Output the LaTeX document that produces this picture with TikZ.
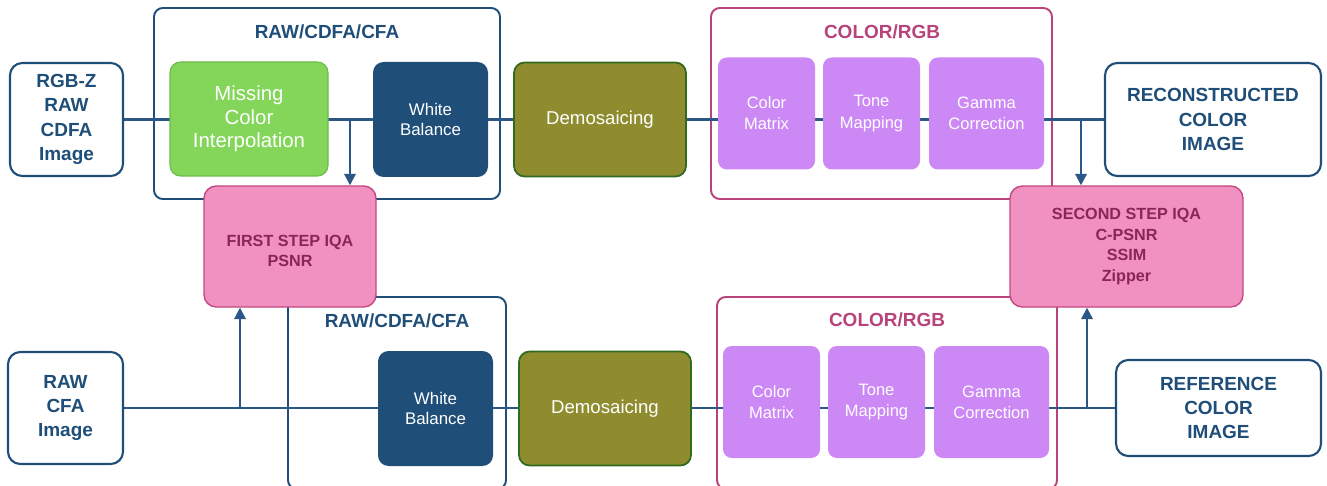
\documentclass[tikz,border=0pt]{standalone}
\usepackage{fontspec}
\setmainfont{Liberation Sans}
\usepackage{tikz}
\usetikzlibrary{arrows.meta,backgrounds}
\definecolor{navy}{HTML}{1F4E79}
\definecolor{linkblue}{HTML}{2A5785}
\definecolor{leaf}{HTML}{84D65A}
\definecolor{leafedge}{HTML}{6CB84A}
\definecolor{olive}{HTML}{8F8C2F}
\definecolor{oliveedge}{HTML}{2F6B1F}
\definecolor{lilac}{HTML}{CC88F5}
\definecolor{rose}{HTML}{F091C1}
\definecolor{roseedge}{HTML}{C24A80}
\definecolor{rosetext}{HTML}{8B2557}
\definecolor{plum}{HTML}{B8437A}
\tikzset{
    dims/.style 2 args={minimum width=#1*0.02cm,minimum height=#2*0.02cm},
    image box/.style={
        draw=navy,line width=1.2pt,rounded corners=7pt,
        fill=white,text=navy,align=center,inner sep=0pt,
        font=\bfseries\fontsize{10.8}{13.8}\selectfont
    },
    stage box/.style={
        rounded corners=6pt,inner sep=0pt,align=center,text=white
    },
    mci box/.style={stage box,draw=leafedge,fill=leaf,line width=.6pt,
        font=\fontsize{11.6}{13.4}\selectfont},
    wb box/.style={stage box,fill=navy,dims={115}{115},
        font=\fontsize{9.6}{11.4}\selectfont},
    demo box/.style={stage box,draw=oliveedge,fill=olive,line width=1pt,
        dims={172}{114},font=\fontsize{10.6}{12}\selectfont},
    rgb box/.style={stage box,fill=lilac,rounded corners=5pt,
        font=\fontsize{9.4}{12}\selectfont},
    iqa box/.style={
        draw=roseedge,fill=rose,line width=.8pt,rounded corners=7pt,
        text=rosetext,align=center,inner sep=0pt,
        font=\bfseries\fontsize{9.2}{11.8}\selectfont
    },
    group frame/.style={line width=1.1pt,rounded corners=5pt},
    group title/.style={font=\bfseries\fontsize{10.8}{13}\selectfont},
    link/.style={draw=linkblue,line width=1.2pt},
    >={Triangle[width=6.5pt,length=6.5pt]}
}
\begin{document}
\begin{tikzpicture}[x=0.02cm,y=-0.02cm]
\useasboundingbox (0,0) rectangle (1327,486);
% inputs and outputs
\node[image box,dims={113}{113}] (rgbz) at (66.5,119.5) {RGB-Z\\RAW\\CDFA\\Image};
\node[image box,dims={115}{112}] (raw) at (65.5,408) {RAW\\CFA\\Image};
\node[image box,dims={216}{113}] (recon) at (1213,119.5) {RECONSTRUCTED\\COLOR\\IMAGE};
\node[image box,dims={205}{96}] (ref) at (1218.5,408) {REFERENCE\\COLOR\\IMAGE};
% pipeline stages
\node[mci box,dims={158}{114}] (mci) at (249,119) {Missing\\Color\\Interpolation};
\node[wb box] (wb1) at (430.5,119.5) {White\\Balance};
\node[wb box] (wb2) at (435.5,408.5) {White\\Balance};
\node[demo box] (dem1) at (600,119.5) {Demosaicing};
\node[demo box] (dem2) at (605,408.5) {Demosaicing};
\foreach \r/\dx/\y in {1/0/113.5,2/5/402}{
    \node[rgb box,dims={97}{112}] (cm\r) at (766.5+\dx,\y) {Color\\Matrix};
    \node[rgb box,dims={97}{112}] (tm\r) at (871.5+\dx,\y) {Tone\\Mapping};
    \node[rgb box,dims={115}{112}] (gc\r) at (986.5+\dx,\y) {Gamma\\Correction};
}
% quality assessment
\node[iqa box,dims={172}{121}] (iqa1) at (290,246.5) {\rule{0pt}{11.5pt}FIRST STEP IQA\\PSNR};
\node[iqa box,dims={233}{121}] (iqa2) at (1126.5,246.5) {SECOND STEP IQA\\C-PSNR\\SSIM\\Zipper};
\begin{scope}[on background layer]
    \draw[group frame,navy] (154,8) rectangle (500,199);
    \draw[group frame,navy] (288,297) rectangle (506,489);
    \draw[group frame,plum] (711,8) rectangle (1052,199);
    \draw[group frame,plum] (717,297) rectangle (1057,489);
    \node[group title,text=navy] (raw1) at (327,32) {RAW/CDFA/CFA};
    \node[group title,text=navy] (raw2) at (397,321) {RAW/CDFA/CFA};
    \node[group title,text=plum] (col1) at (882,32) {COLOR/RGB};
    \node[group title,text=plum] (col2) at (887,320) {COLOR/RGB};
    \draw[link] (rgbz.east) -- (recon.west);
    \draw[link] (raw.east) -- (ref.west);
\end{scope}
\coordinate (tap1) at (350,119.5);
\coordinate (tap2) at (1081,119.5);
\coordinate (tap3) at (240,408);
\coordinate (tap4) at (1087,408);
\draw[link,->] (tap1) -- (tap1 |- iqa1.north);
\draw[link,->] (tap2) -- (tap2 |- iqa2.north);
\draw[link,->] (tap3) -- (tap3 |- iqa1.south);
\draw[link,->] (tap4) -- (tap4 |- iqa2.south);
\end{tikzpicture}
\end{document}
